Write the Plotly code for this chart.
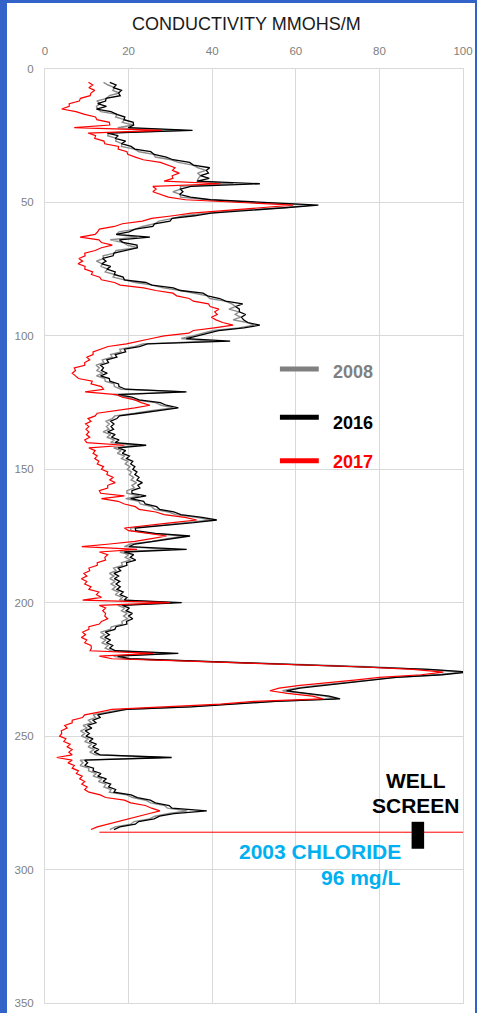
import plotly.graph_objects as go

# Depth (ft) shared by all three logs, 1-ft steps from 5 to 285
depth = list(range(5, 286))

# 2016 conductivity (black)
cond_2016 = [
    15.5, 17.0, 16.4, 18.3, 17.6, 18.0, 14.6, 14.5, 12.6, 14.7,
    12.3, 15.8, 17.2, 19.1, 18.9, 21.1, 21.2, 19.9, 35.3, 14.9,
    17.5, 16.8, 19.3, 18.3, 20.6, 21.5, 25.3, 26.1, 29.0, 30.6,
    34.6, 35.5, 39.4, 38.6, 39.1, 37.2, 39.3, 36.4, 51.4, 34.9,
    32.4, 33.0, 32.2, 34.8, 39.6, 52.6, 65.4, 57.4, 47.8, 39.7,
    35.8, 30.4, 29.9, 26.2, 25.8, 21.6, 20.1, 17.0, 25.1, 17.8,
    18.6, 22.0, 22.1, 19.4, 16.5, 16.3, 13.8, 14.6, 13.6, 15.7,
    14.8, 16.8, 16.6, 18.7, 19.0, 24.1, 25.6, 30.7, 32.4, 37.8,
    38.9, 41.8, 43.2, 47.3, 45.6, 46.5, 46.5, 48.0, 47.0, 47.5,
    48.5, 51.4, 47.6, 41.5, 39.2, 36.5, 33.8, 44.3, 24.5, 22.6,
    19.0, 19.3, 16.8, 17.2, 14.8, 15.2, 13.3, 14.0, 13.5, 14.9,
    13.3, 15.4, 15.5, 17.6, 17.7, 19.3, 33.7, 17.5, 20.8, 22.5,
    27.6, 29.0, 31.9, 26.5, 22.6, 17.8, 17.2, 15.7, 16.5, 15.8,
    16.4, 15.0, 16.8, 15.9, 17.7, 16.8, 24.2, 17.5, 19.3, 18.5,
    20.2, 19.5, 21.0, 20.5, 21.5, 21.0, 22.0, 21.5, 22.5, 22.0,
    23.3, 22.2, 22.7, 20.8, 20.8, 24.2, 20.5, 23.6, 24.0, 26.7,
    27.4, 30.8, 32.5, 37.6, 41.1, 35.6, 28.7, 21.6, 21.7, 26.4,
    34.7, 30.4, 26.8, 21.5, 20.1, 33.9, 19.0, 21.2, 20.4, 21.7,
    19.5, 19.6, 17.5, 18.1, 16.5, 17.6, 16.6, 17.9, 17.0, 18.0,
    17.2, 18.7, 18.0, 19.6, 19.0, 32.7, 18.5, 20.2, 19.4, 20.9,
    20.0, 21.0, 19.5, 19.6, 17.0, 16.7, 14.4, 15.4, 14.3, 15.7,
    14.7, 16.2, 15.5, 16.9, 31.9, 17.4, 20.3, 38.9, 60.0, 78.5,
    92.0, 101.5, 95.0, 84.0, 78.5, 72.0, 66.0, 61.0, 57.8, 63.0,
    68.0, 70.6, 55.0, 45.0, 35.0, 19.5, 15.7, 12.6, 13.2, 11.5,
    12.2, 10.2, 11.2, 9.6, 10.6, 9.8, 11.5, 10.6, 12.3, 11.4,
    12.9, 11.8, 13.2, 30.3, 9.5, 10.2, 9.5, 11.6, 11.5, 13.4,
    12.6, 14.7, 13.9, 15.7, 15.2, 16.9, 16.5, 20.6, 22.1, 25.2,
    26.4, 29.7, 30.4, 38.7, 30.8, 27.4, 26.1, 22.4, 21.6, 17.9,
    16.5,
]

# 2008 conductivity (grey)
cond_2008 = [
    14.0, 15.1, 16.7, 16.2, 17.8, 15.4, 14.8, 12.4, 13.2, 12.3,
    12.6, 13.4, 17.2, 16.9, 19.0, 18.5, 21.1, 17.4, 33.0, 15.2,
    15.0, 17.1, 16.9, 18.4, 18.3, 21.4, 22.5, 26.0, 26.4, 30.2,
    31.9, 35.4, 36.6, 38.5, 36.5, 37.2, 36.7, 36.4, 45.0, 32.4,
    32.5, 30.6, 32.4, 32.4, 39.2, 49.6, 63.8, 57.1, 45.2, 39.6,
    33.2, 30.5, 27.3, 26.2, 23.3, 21.6, 17.7, 17.1, 22.0, 15.6,
    18.7, 19.7, 22.1, 17.0, 16.6, 13.9, 14.0, 12.3, 13.7, 13.4,
    15.0, 14.4, 16.7, 16.3, 19.1, 21.6, 25.6, 28.3, 32.4, 35.3,
    38.8, 39.4, 43.1, 44.7, 45.6, 44.0, 46.4, 45.5, 46.8, 45.0,
    48.4, 50.0, 46.4, 40.3, 38.0, 35.3, 32.6, 40.0, 23.4, 21.5,
    17.9, 18.2, 15.7, 16.1, 13.7, 14.1, 12.2, 13.0, 12.4, 13.8,
    12.3, 14.3, 14.4, 16.5, 16.6, 18.2, 34.0, 16.4, 19.7, 21.4,
    26.4, 27.8, 30.6, 25.3, 21.5, 16.7, 16.1, 14.6, 15.4, 14.7,
    15.3, 13.9, 15.7, 14.8, 16.6, 15.7, 22.0, 16.4, 18.2, 17.3,
    19.0, 18.3, 19.8, 19.2, 20.3, 19.7, 20.7, 20.2, 21.2, 20.6,
    21.9, 20.8, 21.4, 19.6, 19.6, 22.5, 19.3, 22.4, 22.8, 25.5,
    26.2, 29.6, 31.2, 36.2, 39.6, 34.3, 27.5, 20.4, 20.6, 25.2,
    33.3, 29.2, 25.6, 20.4, 19.0, 30.0, 17.9, 20.0, 19.2, 20.5,
    18.3, 18.5, 16.4, 17.0, 15.4, 16.5, 15.5, 16.8, 15.8, 16.9,
    16.1, 17.6, 16.8, 18.5, 17.8, 30.5, 17.4, 19.1, 18.3, 19.7,
    18.8, 19.8, 18.4, 18.5, 15.9, 15.6, 13.3, 14.3, 13.2, 14.6,
    13.6, 15.1, 14.4, 15.8, 30.0, 16.4, 19.2, 37.8, 59.0, 77.5,
    91.0, 100.5, 94.0, 83.0, 77.5, 71.0, 65.0, 60.0, 56.8, 62.0,
    67.0, 69.6, 54.0, 44.0, 34.0, 18.5, 14.6, 11.5, 12.1, 10.4,
    11.1, 9.1, 10.1, 8.5, 9.5, 8.7, 10.4, 9.5, 11.2, 10.3,
    11.8, 10.7, 12.1, 28.0, 8.4, 9.1, 8.4, 10.5, 10.4, 12.3,
    11.5, 13.6, 12.8, 14.6, 14.1, 15.8, 15.4, 19.5, 21.0, 24.1,
    25.3, 28.6, 29.3, 34.0, 29.7, 26.3, 25.0, 21.3, 20.5, 16.8,
    15.5,
]

# 2017 conductivity (red)
cond_2017 = [
    10.4, 11.4, 10.5, 11.9, 11.0, 10.8, 8.5, 8.2, 5.8, 5.8,
    4.0, 7.4, 9.5, 12.1, 12.4, 15.4, 15.5, 7.0, 28.0, 10.3,
    12.1, 11.9, 14.1, 14.3, 17.6, 17.5, 19.6, 19.8, 21.6, 23.5,
    27.6, 29.4, 31.1, 30.5, 32.1, 30.4, 30.6, 28.5, 42.0, 25.8,
    26.6, 25.8, 27.6, 29.5, 33.6, 45.0, 59.4, 51.5, 42.6, 35.0,
    30.6, 25.5, 23.3, 18.5, 16.6, 13.0, 12.6, 12.0, 8.4, 12.9,
    13.5, 16.1, 13.5, 12.0, 9.5, 9.6, 8.1, 9.0, 7.9, 9.6,
    9.5, 11.4, 11.1, 13.1, 13.5, 16.6, 18.0, 23.6, 26.5, 30.6,
    31.5, 34.5, 35.5, 39.1, 39.5, 41.6, 40.6, 41.2, 39.8, 40.9,
    42.5, 45.0, 40.5, 35.5, 34.4, 28.5, 25.5, 22.2, 19.5, 15.1,
    13.5, 11.5, 11.5, 10.0, 10.7, 9.5, 9.5, 7.0, 7.3, 6.5,
    7.3, 8.0, 11.3, 11.0, 13.5, 14.0, 9.6, 17.1, 18.5, 21.5,
    23.0, 25.1, 21.5, 17.5, 12.5, 12.0, 10.3, 11.0, 9.7, 10.5,
    9.8, 10.5, 9.9, 10.7, 9.5, 10.0, 19.0, 10.5, 12.0, 11.5,
    12.5, 11.9, 12.9, 12.5, 14.0, 13.5, 15.0, 14.8, 16.3, 15.5,
    16.8, 15.0, 15.0, 13.0, 13.3, 19.0, 13.5, 17.5, 19.0, 21.6,
    22.5, 26.5, 28.5, 33.5, 36.3, 30.5, 24.5, 19.0, 20.0, 24.5,
    29.1, 25.5, 21.5, 15.5, 8.8, 22.0, 13.0, 15.0, 14.3, 14.5,
    12.5, 12.5, 10.5, 10.7, 9.3, 10.0, 8.7, 10.0, 9.5, 11.0,
    10.5, 12.9, 12.3, 13.5, 9.0, 29.9, 13.0, 14.5, 13.8, 14.5,
    14.3, 15.0, 13.5, 13.0, 10.5, 10.5, 9.0, 9.7, 8.7, 10.0,
    9.5, 11.0, 11.1, 10.8, 25.9, 13.0, 16.0, 36.0, 57.0, 75.0,
    88.0, 95.3, 90.0, 80.0, 74.0, 67.0, 61.0, 56.0, 53.8, 58.0,
    64.0, 66.5, 50.0, 42.0, 30.0, 16.0, 12.9, 9.5, 9.0, 6.5,
    6.5, 4.7, 5.3, 3.9, 4.0, 3.5, 5.0, 4.5, 6.0, 5.3,
    6.5, 5.7, 6.5, 2.8, 6.5, 5.5, 7.0, 6.5, 8.0, 7.5,
    8.9, 8.3, 9.5, 8.8, 10.1, 9.5, 10.5, 13.2, 14.5, 19.0,
    20.5, 24.0, 25.5, 27.5, 25.0, 22.5, 20.0, 17.5, 15.0, 12.5,
    11.0,
]

# 2003 chloride sample depth marker
chloride_depth = [286.0, 286.0]
chloride_x = [13.0, 100.0]

# Well screen interval
screen_top, screen_bottom = 282.1, 292.2
screen_x0, screen_x1 = 87.7, 90.7

x_ticks = [0, 20, 40, 60, 80, 100]
y_ticks = [0, 50, 100, 150, 200, 250, 300, 350]

FONT = "Liberation Sans, Arial, sans-serif"
GRID = "#d9d9d9"

W, H = 477, 1013
ML, MR, MT, MB = 45, 14, 69, 10
PW, PH = W - ML - MR, H - MT - MB


def px_x(p):
    """page pixel -> paper x"""
    return (p - ML) / PW


def px_y(p):
    """page pixel -> paper y"""
    return (H - MB - p) / PH


fig = go.Figure()
fig.add_trace(go.Scatter(x=cond_2008, y=depth, mode="lines", name="2008",
                         line=dict(color="#8c8c8c", width=1.4)))
fig.add_trace(go.Scatter(x=cond_2016, y=depth, mode="lines", name="2016",
                         line=dict(color="#000000", width=1.3)))
fig.add_trace(go.Scatter(x=cond_2017, y=depth, mode="lines", name="2017",
                         line=dict(color="#ff0000", width=1.2)))
fig.add_trace(go.Scatter(x=chloride_x, y=chloride_depth, mode="lines",
                         showlegend=False, line=dict(color="#ff0000", width=1)))

shapes = []
# well screen bar
shapes.append(dict(type="rect", xref="x", yref="y", x0=screen_x0, x1=screen_x1,
                   y0=screen_top, y1=screen_bottom, fillcolor="#000000", line=dict(width=0)))
# manual legend lines
legend_items = [("2008", "#808080", 112.4, 113.4),
                ("2016", "#000000", 130.5, 132.5),
                ("2017", "#ff0000", 146.8, 147.4)]
annotations = []
for name, col, ly, ty in legend_items:
    shapes.append(dict(type="line", xref="x", yref="y", x0=56.2, x1=65.5, y0=ly, y1=ly,
                       line=dict(color=col, width=5)))
    annotations.append(dict(x=68.4, y=ty, xref="x", yref="y", text=f"<b>{name}</b>",
                            showarrow=False, xanchor="left", yanchor="middle",
                            font=dict(family=FONT, size=18, color=col)))

# blue frame around the slide (kept strictly inside the figure)
BLUE = "#3163c9"
shapes.append(dict(type="rect", xref="paper", yref="paper", x0=px_x(0), x1=px_x(7),
                   y0=px_y(H), y1=px_y(0), fillcolor=BLUE, line=dict(width=0), layer="above"))
shapes.append(dict(type="rect", xref="paper", yref="paper", x0=px_x(0), x1=px_x(W),
                   y0=px_y(3), y1=px_y(0), fillcolor=BLUE, line=dict(width=0), layer="above"))
shapes.append(dict(type="rect", xref="paper", yref="paper", x0=px_x(475), x1=px_x(W),
                   y0=px_y(H), y1=px_y(0), fillcolor=BLUE, line=dict(width=0), layer="above"))

annotations += [
    dict(x=px_x(246.7), y=px_y(24), xref="paper", yref="paper", text="CONDUCTIVITY MMOHS/M",
         showarrow=False, xanchor="center", yanchor="middle",
         font=dict(family=FONT, size=18, color="#1a1a1a")),
    dict(x=88.7, y=266.8, xref="x", yref="y", text="<b>WELL</b>", showarrow=False,
         xanchor="center", yanchor="middle", font=dict(family=FONT, size=21, color="#000000")),
    dict(x=88.7, y=276.0, xref="x", yref="y", text="<b>SCREEN</b>", showarrow=False,
         xanchor="center", yanchor="middle", font=dict(family=FONT, size=21, color="#000000")),
    dict(x=85.6, y=293.3, xref="x", yref="y", text="<b>2003 CHLORIDE</b>", showarrow=False,
         xanchor="right", yanchor="middle", font=dict(family=FONT, size=21, color="#00b0f0")),
    dict(x=85.6, y=303.1, xref="x", yref="y", text="<b>96 mg/L</b>", showarrow=False,
         xanchor="right", yanchor="middle", font=dict(family=FONT, size=21, color="#00b0f0")),
]

fig.update_layout(
    width=W, height=H, autosize=False,
    margin=dict(l=ML, r=MR, t=MT, b=MB, pad=0, autoexpand=False),
    paper_bgcolor="#ffffff", plot_bgcolor="#ffffff",
    showlegend=False,
    shapes=shapes, annotations=annotations,
    xaxis=dict(side="top", range=[0, 100], tickvals=x_ticks, showgrid=True, gridcolor=GRID,
               gridwidth=1, zeroline=False, showline=True, linecolor=GRID, mirror=True,
               ticks="", ticklabelstandoff=8, automargin=False,
               tickfont=dict(family=FONT, size=11.5, color="#808080")),
    yaxis=dict(range=[350, 0], tickvals=y_ticks, showgrid=True, gridcolor=GRID,
               gridwidth=1, zeroline=False, showline=True, linecolor=GRID, mirror=True,
               ticks="", ticklabelstandoff=8, automargin=False,
               tickfont=dict(family=FONT, size=11.5, color="#808080")),
)

fig.write_html(
    "out.html",
    config={"responsive": False, "displayModeBar": False, "staticPlot": True},
    post_script="document.body.style.margin='0';document.body.style.overflow='hidden';",
)
